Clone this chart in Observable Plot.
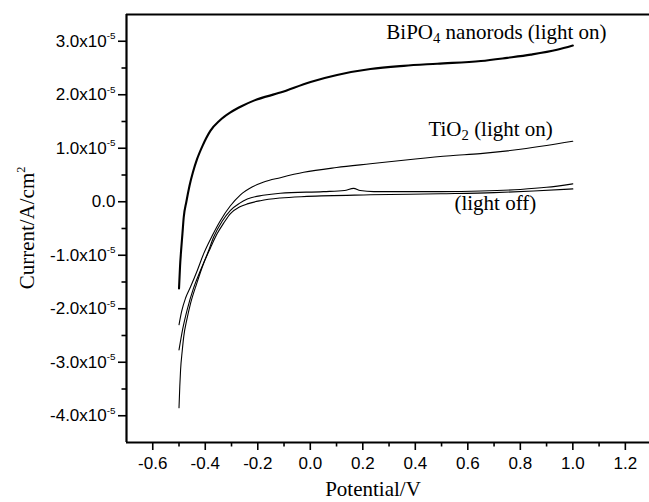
<!DOCTYPE html>
<html><head><meta charset="utf-8">
<script src="https://cdn.jsdelivr.net/npm/d3@7"></script>
<script src="https://cdn.jsdelivr.net/npm/@observablehq/plot@0.6"></script>
<style>
body{margin:0;background:#fff}
#chart{width:649px;height:502px}
#chart svg text.tick{font-family:Arial,'Liberation Sans',sans-serif !important;font-size:17px !important;}
#chart svg text.serif{font-family:'Liberation Serif','Times New Roman',serif !important;font-size:21px !important;}
</style>
</head><body><div id="chart"></div>
<script>
// Current values in units of 1e-5 A/cm^2, potential in V
const bipo4Potential = [-0.500,-0.496,-0.492,-0.487,-0.482,-0.472,-0.460,-0.447,-0.431,-0.410,-0.380,-0.345,-0.304,-0.260,-0.215,-0.114,0.001,0.102,0.229,0.356,0.483,0.650,0.750,0.840,0.940,1.000];
const bipo4Current   = [-1.62,-1.20,-0.91,-0.60,-0.29,0.00,0.30,0.55,0.80,1.05,1.33,1.52,1.67,1.79,1.89,2.04,2.24,2.37,2.48,2.54,2.58,2.63,2.69,2.75,2.84,2.92];

const tio2Potential = [-0.500,-0.490,-0.475,-0.456,-0.430,-0.406,-0.375,-0.342,-0.305,-0.266,-0.220,-0.177,-0.114,-0.025,0.100,0.229,0.400,0.534,0.648,0.800,0.900,1.000];
const tio2Current   = [-2.30,-2.05,-1.80,-1.59,-1.28,-0.97,-0.65,-0.35,-0.08,0.13,0.28,0.37,0.45,0.55,0.64,0.71,0.80,0.86,0.90,0.98,1.05,1.13];

const darkAPotential = [-0.500,-0.486,-0.469,-0.445,-0.418,-0.390,-0.368,-0.335,-0.304,-0.270,-0.240,-0.180,-0.114,0.050,0.130,0.165,0.190,0.242,0.400,0.500,0.650,0.800,0.900,1.000];
const darkACurrent   = [-2.77,-2.38,-2.02,-1.62,-1.28,-0.95,-0.66,-0.36,-0.16,-0.03,0.05,0.12,0.16,0.19,0.21,0.25,0.21,0.19,0.19,0.19,0.20,0.23,0.27,0.335];

const darkBPotential = [-0.500,-0.497,-0.494,-0.488,-0.482,-0.470,-0.456,-0.432,-0.406,-0.380,-0.355,-0.330,-0.304,-0.270,-0.240,-0.190,-0.114,-0.012,0.229,0.496,0.700,0.850,1.000];
const darkBCurrent   = [-3.85,-3.45,-3.14,-2.80,-2.52,-2.20,-1.90,-1.52,-1.15,-0.86,-0.60,-0.40,-0.22,-0.10,-0.04,0.02,0.07,0.10,0.13,0.15,0.17,0.20,0.24];

const xMajorTicks = [-0.6,-0.4,-0.2,0.0,0.2,0.4,0.6,0.8,1.0,1.2];
const xMinorTicks = [-0.5,-0.3,-0.1,0.1,0.3,0.5,0.7,0.9,1.1];
const yMajorTicks = [-4,-3,-2,-1,0,1,2,3];
const yMinorTicks = [-3.5,-2.5,-1.5,-0.5,0.5,1.5,2.5];

const labelText      = ["BiPO_{4} nanorods (light on)", "TiO_{2} (light on)", "(light off)"];
const labelPotential = [0.709, 0.687, 0.705];
const labelCurrent   = [3.17, 1.36, -0.03];

const xTitle = "Potential/V";
const yTitle = "Current/A/cm^{2}";

function rows(name, xs, ys) { return xs.map((x, i) => ({series: name, potential: x, current: ys[i]})); }
const thick = rows("BiPO4 nanorods (light on)", bipo4Potential, bipo4Current);
const thin = [
  ...rows("TiO2 (light on)", tio2Potential, tio2Current),
  ...rows("light off A", darkAPotential, darkACurrent),
  ...rows("light off B", darkBPotential, darkBCurrent)
];
const annotations = labelText.map((t, i) => ({text: t, potential: labelPotential[i], current: labelCurrent[i]}));

const fmtY = d => d === 0 ? "0.0" : d.toFixed(1) + "x10^{-5}";

const chart = Plot.plot({
  width: 649, height: 502,
  marginLeft: 126, marginRight: 0, marginTop: 14, marginBottom: 60,
  x: {domain: [-0.7, 1.292]},
  y: {domain: [-4.5, 3.5]},
  style: {color: "black", background: "white", fontSize: "17px"},
  marks: [
    Plot.axisX(xMajorTicks, {tickSize: 8, tickPadding: 6, tickFormat: d => d.toFixed(1), label: null, strokeWidth: 1.6, fontSize: 17}),
    Plot.axisX(xMinorTicks, {tickSize: 4.5, tickFormat: () => "", label: null, strokeWidth: 1.6}),
    Plot.axisY(yMajorTicks, {tickSize: 8, tickPadding: 3, tickFormat: fmtY, label: null, strokeWidth: 1.6, fontSize: 17}),
    Plot.axisY(yMinorTicks, {tickSize: 4.5, tickFormat: () => "", label: null, strokeWidth: 1.6}),
    Plot.ruleX([-0.7], {strokeWidth: 2.2}),
    Plot.ruleY([-4.5], {strokeWidth: 2.2}),
    Plot.ruleY([3.5], {strokeWidth: 2.2}),
    Plot.line(thin, {x: "potential", y: "current", z: "series", stroke: "black", strokeWidth: 1.1, curve: "monotone-x"}),
    Plot.line(thick, {x: "potential", y: "current", stroke: "black", strokeWidth: 2.1, curve: "monotone-x"}),
    Plot.text(annotations, {x: "potential", y: "current", text: "text", textAnchor: "middle", fill: "black"})
  ]
});
document.getElementById("chart").appendChild(chart);

chart.querySelectorAll("text").forEach(t => {
  if (labelText.includes(t.textContent)) t.classList.add("serif");
  else { t.classList.add("tick"); t.setAttribute("font-size", 17); t.style.setProperty("font-size", "17px", "important"); }
});

const svg = d3.select(chart);
svg.append("text").attr("class", "serif").attr("x", 373).attr("y", 496).attr("text-anchor", "middle")
  .attr("fill", "black").text(xTitle);
svg.append("text").attr("class", "serif").attr("transform", "translate(34,228) rotate(-90)").attr("text-anchor", "middle")
  .attr("fill", "black").text(yTitle);

const ns = "http://www.w3.org/2000/svg";
function rich(el, str) {
  const base = parseFloat(getComputedStyle(el).fontSize) || 17;
  el.textContent = "";
  const parts = str.split(/(\^\{[^}]*\}|_\{[^}]*\})/);
  let shift = 0;
  for (const p of parts) {
    if (!p) continue;
    const t = document.createElementNS(ns, "tspan");
    let target = 0, txt = p, size = null;
    if (p.startsWith("^{")) { target = -0.45 * base; txt = p.slice(2, -1); size = 0.58 * base; }
    else if (p.startsWith("_{")) { target = 0.22 * base; txt = p.slice(2, -1); size = 0.7 * base; }
    const dy = target - shift;
    if (dy) t.setAttribute("dy", dy);
    if (size) t.style.setProperty("font-size", size + "px", "important");
    t.textContent = txt;
    el.appendChild(t);
    shift = target;
  }
}

chart.querySelectorAll("text").forEach(el => {
  const s = el.textContent;
  if (/[\^_]\{/.test(s)) rich(el, s);
});
</script>
</body></html>
